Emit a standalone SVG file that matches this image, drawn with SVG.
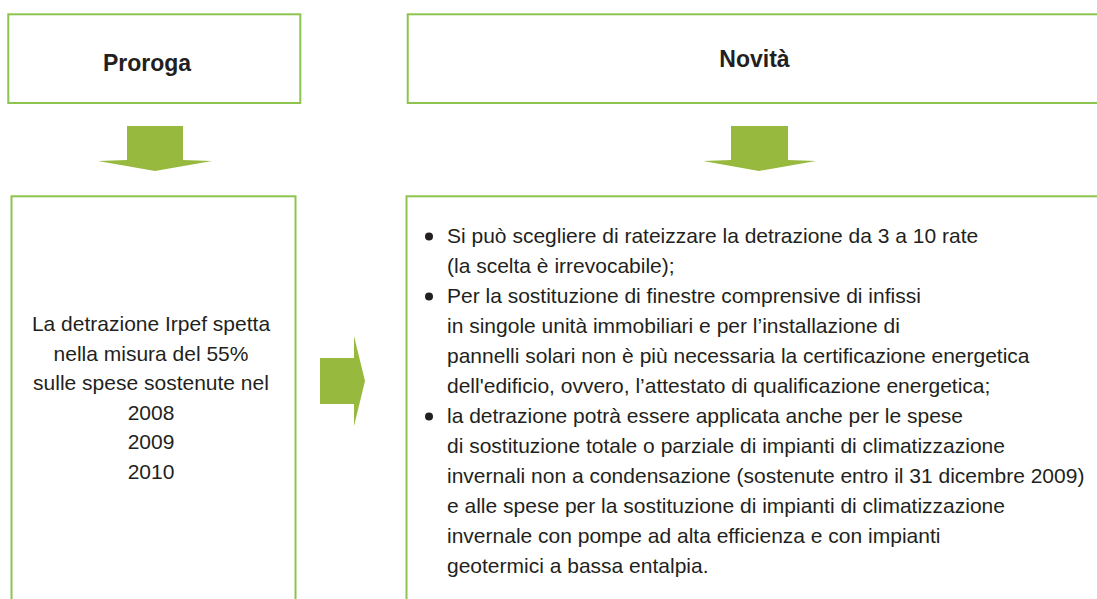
<svg xmlns="http://www.w3.org/2000/svg" width="1097" height="599" viewBox="0 0 1097 599">
<defs>
<style>
.box{fill:#ffffff;stroke:#8cc44f;stroke-width:2}
.arrow{fill:#97b93e;stroke:none}
.title{font-family:"Liberation Sans",Arial,sans-serif;font-weight:bold;font-size:23px;fill:#231f20}
.body{font-family:"Liberation Sans",Arial,sans-serif;font-size:21px;fill:#231f20}
.bullet{fill:#231f20}
</style>
</defs>
<rect width="1097" height="599" fill="#ffffff"/>
<g id="connectors">
<polygon class="arrow" points="127,126 183,126 183,160 212,161 155,171 98,161 127,160"/>
<polygon class="arrow" points="731,126 788,126 788,160 816,161 759,171 703,161 731,160"/>
<polygon class="arrow" points="320,358 354,358 354,336 365,381 354,426 354,404 320,404"/>
</g>
<g id="node-proroga">
<rect class="box" x="8.3" y="14.3" width="292" height="88.7"/>
<text class="title" x="147" y="71" text-anchor="middle">Proroga</text>
</g>
<g id="node-novita">
<rect class="box" x="407.7" y="14.3" width="710" height="88.7"/>
<text class="title" x="754.5" y="67" text-anchor="middle">Novità</text>
</g>
<g id="node-proroga-detail">
<rect class="box" x="11.5" y="196.3" width="284" height="420"/>
<g class="body" text-anchor="middle">
<text x="151" y="331">La detrazione Irpef spetta</text>
<text x="151" y="360.5">nella misura del 55%</text>
<text x="151" y="390">sulle spese sostenute nel</text>
<text x="151" y="419.5">2008</text>
<text x="151" y="449">2009</text>
<text x="151" y="478.5">2010</text>
</g>
</g>
<g id="node-novita-detail">
<rect class="box" x="406.5" y="196.3" width="710" height="420"/>
<circle class="bullet" cx="429" cy="236.5" r="4"/>
<circle class="bullet" cx="429" cy="296.5" r="4"/>
<circle class="bullet" cx="429" cy="416.5" r="4"/>
<g class="body">
<text x="447" y="243">Si può scegliere di rateizzare la detrazione da 3 a 10 rate</text>
<text x="447" y="273">(la scelta è irrevocabile);</text>
<text x="447" y="303">Per la sostituzione di finestre comprensive di infissi</text>
<text x="447" y="333">in singole unità immobiliari e per l’installazione di</text>
<text x="447" y="363">pannelli solari non è più necessaria la certificazione energetica</text>
<text x="447" y="393">dell'edificio, ovvero, l’attestato di qualificazione energetica;</text>
<text x="447" y="423">la detrazione potrà essere applicata anche per le spese</text>
<text x="447" y="453">di sostituzione totale o parziale di impianti di climatizzazione</text>
<text x="447" y="483">invernali non a condensazione (sostenute entro il 31 dicembre 2009)</text>
<text x="447" y="513">e alle spese per la sostituzione di impianti di climatizzazione</text>
<text x="447" y="543">invernale con pompe ad alta efficienza e con impianti</text>
<text x="447" y="573">geotermici a bassa entalpia.</text>
</g>
</g>
</svg>
